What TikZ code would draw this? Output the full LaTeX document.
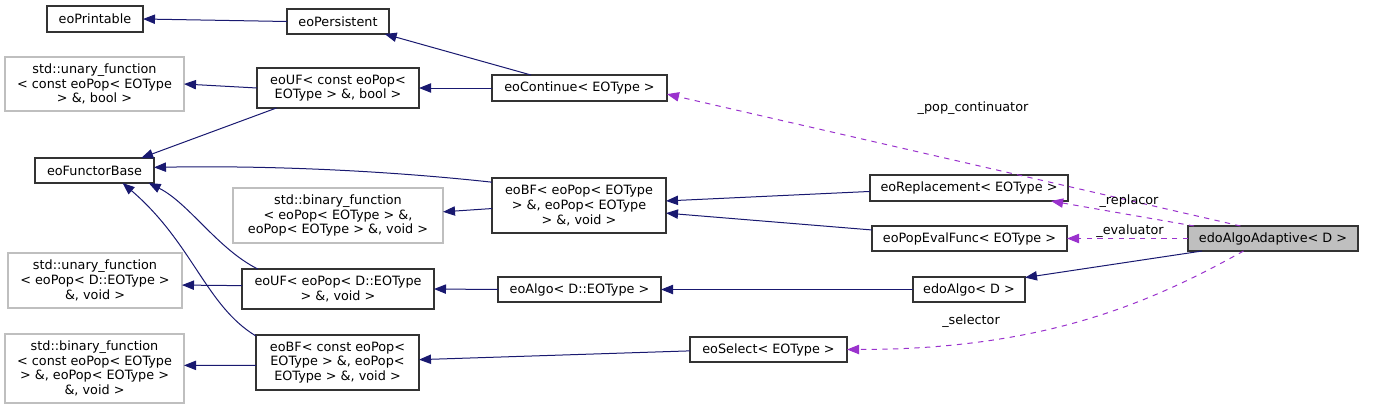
\documentclass[tikz,border=0pt]{standalone}
\usepackage{fontspec}
\setmainfont{DejaVu Sans}
\usetikzlibrary{arrows.meta}
\definecolor{inhcol}{HTML}{191970}
\definecolor{usecol}{HTML}{9A32CD}
\definecolor{extcol}{HTML}{BFBFBF}
\tikzset{cls/.style = {draw=black!80, line width=0.8pt, inner sep=0, outer sep=0,
                       align=center, minimum height=18.75pt,
                       font=\fontsize{9.6}{11}\selectfont}}
\tikzset{ext/.style = {cls, draw=extcol}}
\tikzset{inh/.style = {draw=inhcol, line width=0.75pt,
                       -{Triangle[length=9pt,width=7pt]}}}
\tikzset{use/.style = {inh, draw=usecol, dash pattern=on 4pt off 4pt}}
\tikzset{lbl/.style = {inner sep=0, font=\fontsize{9.6}{11}\selectfont}}

\begin{document}
\begin{tikzpicture}[x=0.75pt, y=-0.75pt]
  \useasboundingbox (0,0) rectangle (1373,410);

  \node[cls, minimum width=72pt, minimum height=19.5pt] (printable) at (95,19) {eoPrintable};
  \node[cls, minimum width=76.5pt] (persistent) at (338,21.5) {eoPersistent};
  \node[ext, minimum width=134.25pt, minimum height=40.5pt] (unaryconst) at (94.5,84)
    {std::unary\_function\\< const eoPop< EOType\\> \&, bool >};
  \node[cls, minimum width=121.5pt, minimum height=30pt] (ufconst) at (338,88)
    {eoUF< const eoPop<\\EOType > \&, bool >};
  \node[cls, minimum width=89.25pt] (functorbase) at (94.5,170.5) {eoFunctorBase};
  \node[ext, minimum width=157.5pt, minimum height=41.25pt] (binary) at (338,215.5)
    {std::binary\_function\\< eoPop< EOType > \&,\\ eoPop< EOType > \&, void >};
  \node[ext, minimum width=130.5pt, minimum height=41.25pt] (unaryd) at (95,280.5)
    {std::unary\_function\\< eoPop< D::EOType >\\\&, void >};
  \node[cls, minimum width=144pt, minimum height=30pt] (ufd) at (338,289)
    {eoUF< eoPop< D::EOType\\> \&, void >};
  \node[ext, minimum width=134.25pt, minimum height=51.75pt] (binaryconst) at (94.5,368.5)
    {std::binary\_function\\< const eoPop< EOType\\> \&, eoPop< EOType >\\\&, void >};
  \node[cls, minimum width=122.25pt, minimum height=41.25pt] (bfconst) at (337.5,362.5)
    {eoBF< const eoPop<\\EOType > \&, eoPop<\\EOType > \&, void >};
  \node[cls, minimum width=131.25pt, minimum height=19.5pt] (continue) at (579.5,88)
    {eoContinue< EOType >};
  \node[cls, minimum width=130.5pt, minimum height=41.25pt] (bf) at (579,205.5)
    {eoBF< eoPop< EOType\\> \&, eoPop< EOType\\> \&, void >};
  \node[cls, minimum width=122.25pt] (eoalgo) at (579.5,289.5) {eoAlgo< D::EOType >};
  \node[cls, minimum width=117.75pt] (select) at (768.5,349.5) {eoSelect< EOType >};
  \node[cls, minimum width=148.5pt, minimum height=19.5pt] (replacement) at (969,188)
    {eoReplacement< EOType >};
  \node[cls, minimum width=146.25pt] (popeval) at (969.5,238.5) {eoPopEvalFunc< EOType >};
  \node[cls, minimum width=84pt] (edoalgo) at (969,289.5) {edoAlgo< D >};
  \node[cls, minimum width=127.5pt, fill=extcol] (adaptive) at (1273,238.5)
    {edoAlgoAdaptive< D >};

  \draw[inh] (persistent.west) -- (printable.east);
  \draw[inh] (continue.165) -- (persistent.-15);
  \draw[inh] (continue.west) -- (ufconst.east);
  \draw[inh] (ufconst.west) -- (unaryconst.east);
  \draw[inh] (ufconst.198) -- (functorbase.15);
  \draw[inh] (bf.165) .. controls +(-110,-12) and +(110,-2) .. (functorbase.3);
  \draw[inh] (bf.182) -- (binary.2);
  \draw[inh] (ufd.166) .. controls +(-40,-20) and +(40,20) .. (functorbase.-13);
  \draw[inh] (ufd.178) -- (unaryd.-3);
  \draw[inh] (bfconst.162) .. controls +(-50,-30) and +(70,60) .. (functorbase.-24);
  \draw[inh] (bfconst.182) -- (binaryconst.2);
  \draw[inh] (eoalgo.west) -- (ufd.east);
  \draw[inh] (edoalgo.west) -- (eoalgo.east);
  \draw[inh] (adaptive.190) -- (edoalgo.12);
  \draw[inh] (replacement.182) -- (bf.3);
  \draw[inh] (popeval.175) -- (bf.-5);
  \draw[inh] (select.181) -- (bfconst.2.5);

  \draw[use] (adaptive.159) -- (continue.-4);
  \draw[use] (adaptive.171) -- (replacement.-9);
  \draw[use] (adaptive.west) -- (popeval.east);
  \draw[use] (adaptive.203) .. controls +(-90,50) and +(200,0) .. (select.east);

  \node[lbl] (lpop) at (973,108) {\_pop\_continuator};
  \node[lbl] (lrep) at (1129,201) {\_replacor};
  \node[lbl] (leval) at (1130,231) {\_evaluator};
  \node[lbl] (lsel) at (971,321) {\_selector};
\end{tikzpicture}
\end{document}
